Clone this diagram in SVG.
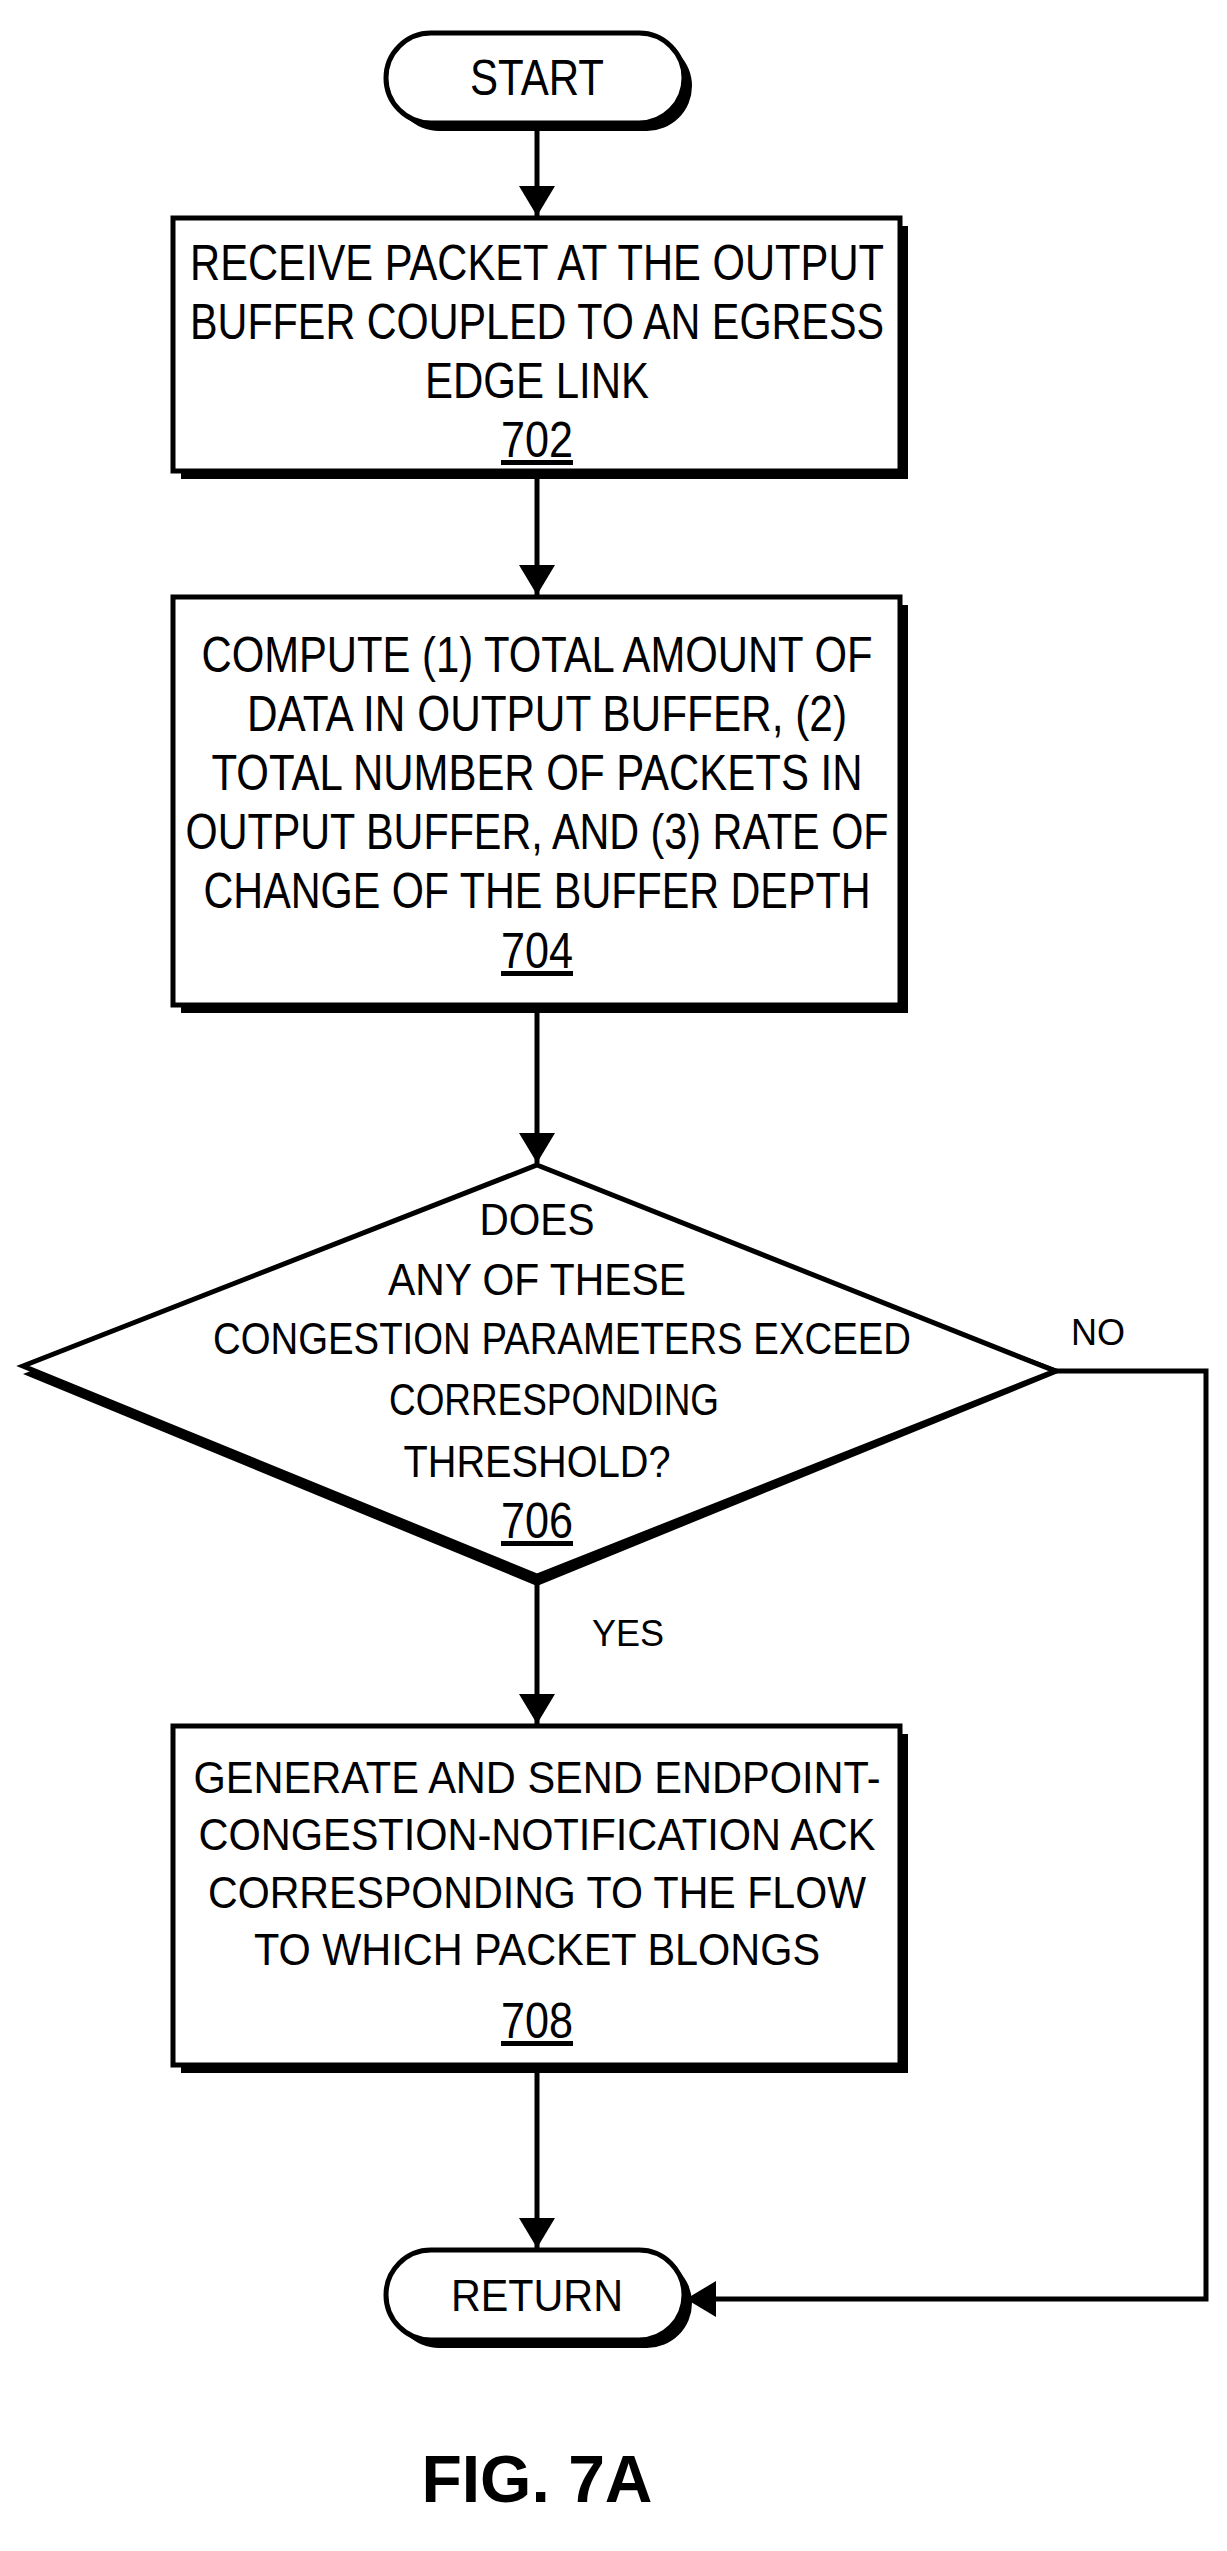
<svg xmlns="http://www.w3.org/2000/svg" width="1227" height="2551" viewBox="0 0 1227 2551">
<style>
.b{fill:#fff;stroke:#000;stroke-width:5}
.s{fill:#000}
.t{font-family:"Liberation Sans",Arial,sans-serif;font-size:50px;text-anchor:middle;fill:#000}
.d{font-size:44px}
.l{stroke:#000;stroke-width:5;fill:none}
</style>
<defs>
<marker id="ah" markerWidth="30" markerHeight="36" refX="30" refY="18" orient="auto" markerUnits="userSpaceOnUse"><path d="M0,0L30,18L0,36z"/></marker></defs>
<g id="connectors">
<line class="l" x1="537" y1="126" x2="537" y2="216" marker-end="url(#ah)"/>
<line class="l" x1="537" y1="476" x2="537" y2="595" marker-end="url(#ah)"/>
<line class="l" x1="537" y1="1010" x2="537" y2="1163" marker-end="url(#ah)"/>
<line class="l" x1="537" y1="1580" x2="537" y2="1724" marker-end="url(#ah)"/>
<line class="l" x1="537" y1="2070" x2="537" y2="2248" marker-end="url(#ah)"/>
<polyline class="l" points="1055,1371 1206,1371 1206,2299 686,2299" marker-end="url(#ah)"/>
<text class="t" x="1098" y="1345" style="font-size:36px">NO</text>
<text class="t" x="628" y="1646" style="font-size:36px">YES</text>
</g>
<g id="start">
<rect class="s" x="394" y="41" width="298" height="90" rx="45"/>
<rect class="b" x="386" y="33" width="298" height="90" rx="45"/>
<text class="t" x="537" y="95" textLength="134" lengthAdjust="spacingAndGlyphs">START</text>
</g>
<g id="n702">
<rect class="s" x="181" y="226" width="727" height="253"/>
<rect class="b" x="173" y="218" width="727" height="253"/>
<text class="t" x="537" y="280" textLength="694" lengthAdjust="spacingAndGlyphs">RECEIVE PACKET AT THE OUTPUT</text>
<text class="t" x="537" y="339" textLength="694" lengthAdjust="spacingAndGlyphs">BUFFER COUPLED TO AN EGRESS</text>
<text class="t" x="537" y="398" textLength="224" lengthAdjust="spacingAndGlyphs">EDGE LINK</text>
<text class="t" x="537" y="457" textLength="72" lengthAdjust="spacingAndGlyphs" text-decoration="underline">702</text>
</g>
<g id="n704">
<rect class="s" x="181" y="605" width="727" height="408"/>
<rect class="b" x="173" y="597" width="727" height="408"/>
<text class="t" x="537" y="672" textLength="671" lengthAdjust="spacingAndGlyphs">COMPUTE (1) TOTAL AMOUNT OF</text>
<text class="t" x="547" y="731" textLength="600" lengthAdjust="spacingAndGlyphs">DATA IN OUTPUT BUFFER, (2)</text>
<text class="t" x="537" y="790" textLength="651" lengthAdjust="spacingAndGlyphs">TOTAL NUMBER OF PACKETS IN</text>
<text class="t" x="537" y="849" textLength="703" lengthAdjust="spacingAndGlyphs">OUTPUT BUFFER, AND (3) RATE OF</text>
<text class="t" x="537" y="908" textLength="667" lengthAdjust="spacingAndGlyphs">CHANGE OF THE BUFFER DEPTH</text>
<text class="t" x="537" y="968" textLength="72" lengthAdjust="spacingAndGlyphs" text-decoration="underline">704</text>
</g>
<g id="n706">
<polygon class="s" points="537,1173 1063,1371 537,1586 23,1374"/>
<polygon class="b" points="537,1165 1055,1371 537,1576 23,1366"/>
<text class="t d" x="537" y="1235" textLength="115" lengthAdjust="spacingAndGlyphs">DOES</text>
<text class="t d" x="537" y="1295" textLength="298" lengthAdjust="spacingAndGlyphs">ANY OF THESE</text>
<text class="t d" x="562" y="1354" textLength="698" lengthAdjust="spacingAndGlyphs">CONGESTION PARAMETERS EXCEED</text>
<text class="t d" x="554" y="1415" textLength="330" lengthAdjust="spacingAndGlyphs">CORRESPONDING</text>
<text class="t d" x="537" y="1477" textLength="267" lengthAdjust="spacingAndGlyphs">THRESHOLD?</text>
<text class="t" x="537" y="1538" textLength="72" lengthAdjust="spacingAndGlyphs" text-decoration="underline">706</text>
</g>
<g id="n708">
<rect class="s" x="181" y="1734" width="727" height="339"/>
<rect class="b" x="173" y="1726" width="727" height="339"/>
<text class="t d" x="537" y="1793" textLength="687" lengthAdjust="spacingAndGlyphs">GENERATE AND SEND ENDPOINT-</text>
<text class="t d" x="537" y="1850" textLength="677" lengthAdjust="spacingAndGlyphs">CONGESTION-NOTIFICATION ACK</text>
<text class="t d" x="537" y="1908" textLength="658" lengthAdjust="spacingAndGlyphs">CORRESPONDING TO THE FLOW</text>
<text class="t d" x="537" y="1965" textLength="566" lengthAdjust="spacingAndGlyphs">TO WHICH PACKET BLONGS</text>
<text class="t" x="537" y="2038" textLength="72" lengthAdjust="spacingAndGlyphs" text-decoration="underline">708</text>
</g>
<g id="return">
<rect class="s" x="394" y="2258" width="298" height="90" rx="45"/>
<rect class="b" x="386" y="2250" width="298" height="90" rx="45"/>
<text class="t d" x="537" y="2311" textLength="172" lengthAdjust="spacingAndGlyphs">RETURN</text>
</g>
<text class="t" x="537" y="2502" style="font-size:66px;font-weight:bold">FIG. 7A</text>
</svg>
